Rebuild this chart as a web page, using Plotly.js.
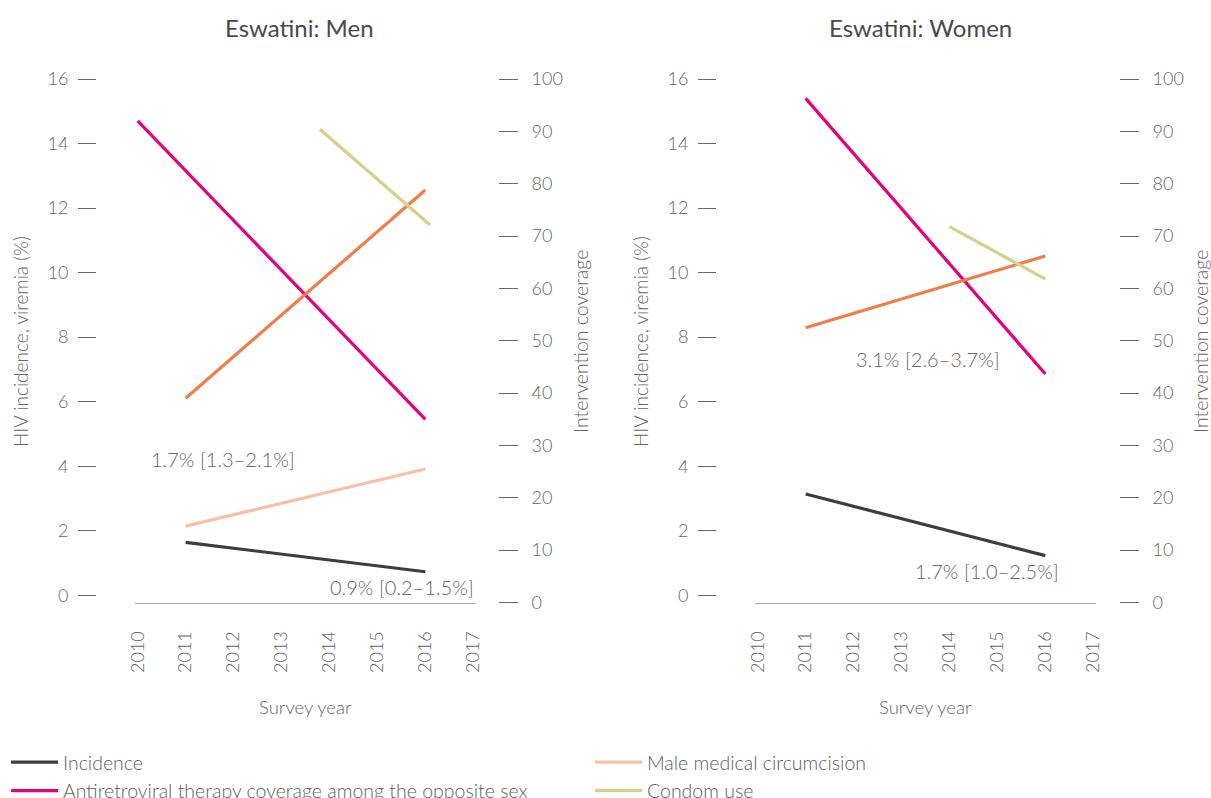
<!DOCTYPE html>
<html><head><meta charset="utf-8">
<script src="https://cdn.plot.ly/plotly-3.0.1.min.js"></script>
<style>html,body{margin:0;padding:0;background:#fff}</style>
</head><body><div id="chart" style="width:1211px;height:798px"></div>
<script>
// ---- data ----
const yearTicks = [2010, 2011, 2012, 2013, 2014, 2015, 2016, 2017];
const leftTicks = [0, 2, 4, 6, 8, 10, 12, 14, 16];
const rightTicks = [0, 10, 20, 30, 40, 50, 60, 70, 80, 90, 100];

// Men
const menIncYears = [2011, 2016];
const menIncidence = [1.64, 0.73];
const menArtYears = [2010, 2016];
const menArt = [14.7, 5.45];            // left axis
const menOrangeYears = [2011, 2016];
const menOrange = [39.0, 78.8];         // right axis
const menMmcYears = [2011, 2016];
const menMmc = [14.6, 25.5];            // right axis
const menCondomYears = [2013.8, 2016.1];
const menCondom = [90.4, 72.1];         // right axis

// Women
const womenIncYears = [2011, 2016];
const womenIncidence = [3.14, 1.23];
const womenArtYears = [2011, 2016];
const womenArt = [15.4, 6.86];
const womenOrangeYears = [2011, 2016];
const womenOrange = [52.5, 66.2];
const womenCondomYears = [2014, 2016];
const womenCondom = [71.8, 61.8];

const labelMenStart = "1.7% [1.3–2.1%]";
const labelMenEnd = "0.9% [0.2–1.5%]";
const labelWomenStart = "3.1% [2.6–3.7%]";
const labelWomenEnd = "1.7% [1.0–2.5%]";

// ---- styling ----
const W = 1211, H = 798;
const X = px => px / W;
const Y = py => 1 - py / H;
const FONT = "Lato, 'Open Sans', sans-serif";
const C = {inc:'#3d3d3d', art:'#e5007d', orange:'#f07d4a', mmc:'#f8c1a4', condom:'#d8d08a'};
const LW = 3.2;

function line(x, y, xa, ya, color, name, opts) {
  return Object.assign({type:'scatter', mode:'lines', x:x, y:y, xaxis:xa, yaxis:ya,
    line:{color:color, width:LW}, name:name, hoverinfo:'skip'}, opts || {});
}

const traces = [
  line(menIncYears, menIncidence, 'x', 'y', C.inc, 'Incidence', {legendrank:1, legendgroup:'inc'}),
  line(menArtYears, menArt, 'x', 'y', C.art, 'Antiretroviral therapy coverage among the opposite sex', {legendrank:3, legendgroup:'art'}),
  line(menOrangeYears, menOrange, 'x', 'y2', C.orange, 'Viral suppression', {showlegend:false}),
  line(menMmcYears, menMmc, 'x', 'y2', C.mmc, 'Male medical circumcision', {legendrank:2, legendgroup:'mmc'}),
  line(menCondomYears, menCondom, 'x', 'y2', C.condom, 'Condom use', {legendrank:4, legendgroup:'condom'}),
  line(womenIncYears, womenIncidence, 'x2', 'y3', C.inc, 'Incidence', {showlegend:false, legendgroup:'inc'}),
  line(womenArtYears, womenArt, 'x2', 'y3', C.art, 'Antiretroviral therapy coverage among the opposite sex', {showlegend:false, legendgroup:'art'}),
  line(womenOrangeYears, womenOrange, 'x2', 'y4', C.orange, 'Viral suppression', {showlegend:false}),
  line(womenCondomYears, womenCondom, 'x2', 'y4', C.condom, 'Condom use', {showlegend:false, legendgroup:'condom'})
];

const yDom = [Y(602.5), Y(79)];
const tickFont = {family:FONT, size:18, color:'#666666', weight:300};
function xAxis(dom, anchor) {
  return {domain:dom, anchor:anchor, range:[2009.944, 2017.057], tickvals:yearTicks,
    ticktext:yearTicks.map(String), tickangle:-90, ticks:'', showline:true, linecolor:'#ababab',
    linewidth:1.5, showgrid:false, zeroline:false, tickfont:tickFont, ticklabelstandoff:20, fixedrange:true};
}
function yLeft(pos) {
  return {domain:yDom, range:[-0.223, 16], anchor:'free', position:pos, side:'left',
    tickvals:leftTicks, ticks:'outside', ticklen:18, tickwidth:1, tickcolor:'#666666',
    showline:false, showgrid:false, zeroline:false, tickfont:tickFont, ticklabelstandoff:6, fixedrange:true};
}
function yRight(pos, over) {
  return {domain:yDom, range:[0, 100], anchor:'free', position:pos, side:'right', overlaying:over,
    tickvals:rightTicks, ticks:'outside', ticklen:19, tickwidth:1, tickcolor:'#666666',
    showline:false, showgrid:false, zeroline:false, tickfont:tickFont, ticklabelstandoff:10, fixedrange:true};
}

function ann(text, px, py, size, extra) {
  return Object.assign({text:text, x:X(px), y:Y(py), xref:'paper', yref:'paper', showarrow:false,
    xanchor:'center', yanchor:'middle', font:{family:FONT, size:size, color:'#666666', weight:300}}, extra || {});
}
const titleFont = {family:FONT, size:24, color:'#4a4a4a', weight:400};

const layout = {
  width:W, height:H,
  margin:{l:0, r:0, t:0, b:0, autoexpand:false},
  paper_bgcolor:'#ffffff', plot_bgcolor:'rgba(0,0,0,0)',
  showlegend:true,
  xaxis: xAxis([X(135), X(476)], 'y'),
  xaxis2: xAxis([X(755), X(1096)], 'y3'),
  yaxis: yLeft(X(96)),
  yaxis2: yRight(X(498), 'y'),
  yaxis3: yLeft(X(716)),
  yaxis4: yRight(X(1119), 'y3'),
  legend:{orientation:'h', x:X(6), y:Y(743), xanchor:'left', yanchor:'top', itemwidth:47,
    entrywidth:522, entrywidthmode:'pixels', traceorder:'normal', font:{family:FONT, size:19.5, color:'#5e5e5e', weight:300},
    bgcolor:'rgba(0,0,0,0)', tracegroupgap:0},
  annotations:[
    ann('Eswatini: Men', 299.5, 27, 24, {font:titleFont}),
    ann('Eswatini: Women', 920.5, 27, 24, {font:titleFont}),
    ann('HIV incidence, viremia (%)', 20, 342, 19, {textangle:-90}),
    ann('HIV incidence, viremia (%)', 640, 342, 19, {textangle:-90}),
    ann('Intervention coverage', 580, 342, 19.5, {textangle:-90}),
    ann('Intervention coverage', 1200, 342, 19.5, {textangle:-90}),
    ann('Survey year', 305.5, 707, 18.5),
    ann('Survey year', 925.5, 707, 18.5),
    ann(labelMenStart, 222.8, 459.3, 20),
    ann(labelMenEnd, 402, 587, 20),
    ann(labelWomenStart, 927.8, 359.3, 20),
    ann(labelWomenEnd, 986.5, 570.7, 20)
  ]
};

Plotly.newPlot('chart', traces, layout, {displayModeBar:false, staticPlot:true});
</script></body></html>
